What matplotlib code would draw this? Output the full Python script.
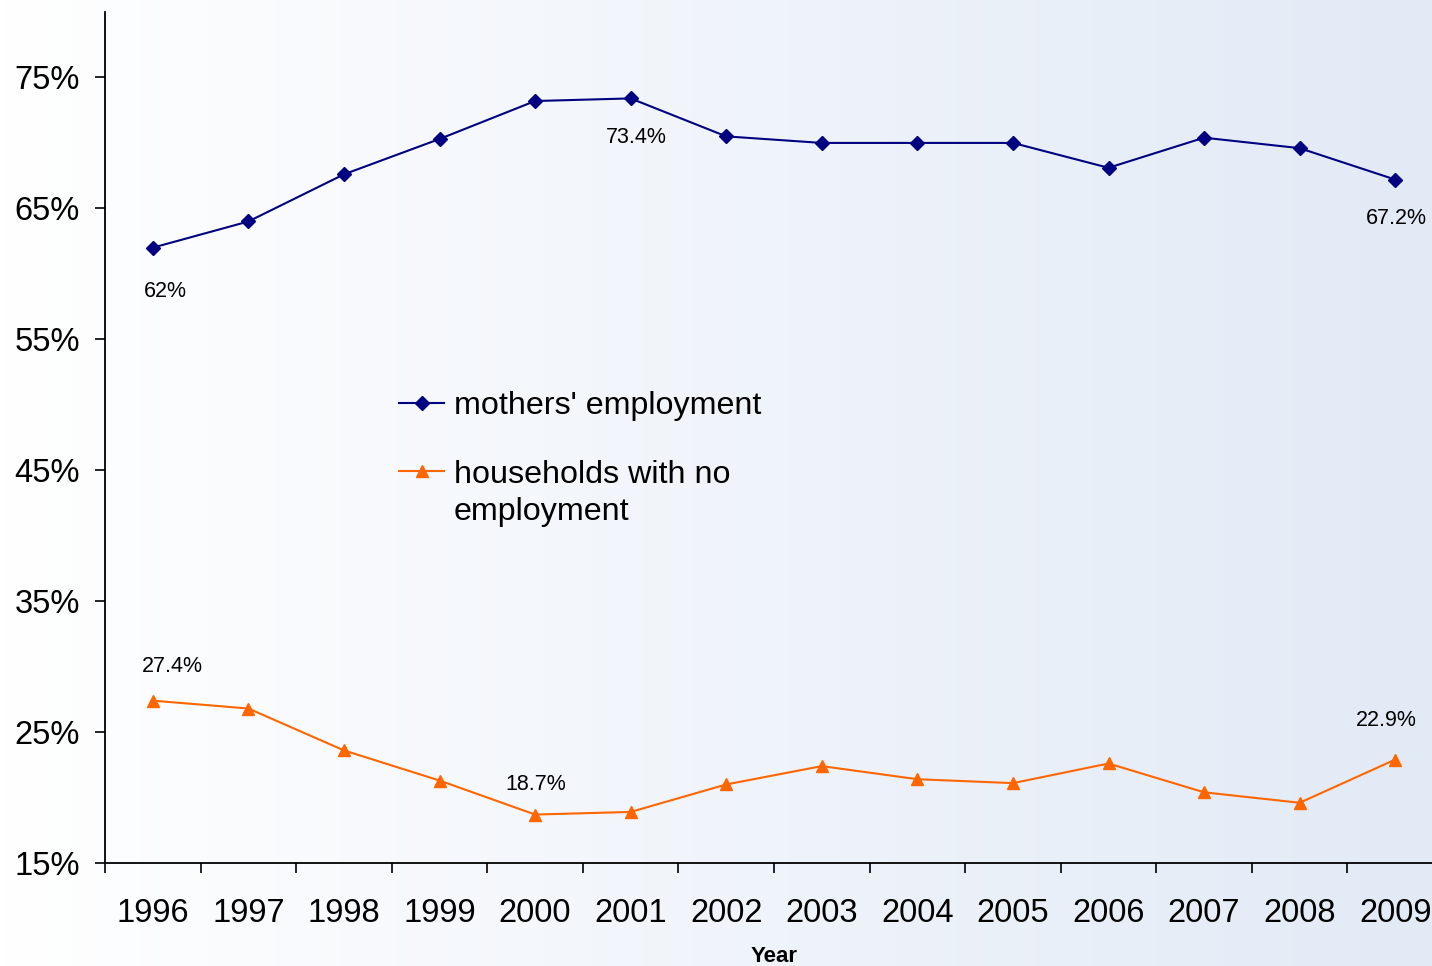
import numpy as np
import matplotlib
matplotlib.use('Agg')
import matplotlib.pyplot as plt
from matplotlib.colors import LinearSegmentedColormap

plt.rcParams['font.family'] = ['Liberation Sans', 'DejaVu Sans']

# data (percent)
years = ['1996', '1997', '1998', '1999', '2000', '2001', '2002',
         '2003', '2004', '2005', '2006', '2007', '2008', '2009']
mothers = [62.0, 64.0, 67.6, 70.3, 73.2, 73.4, 70.5,
           70.0, 70.0, 70.0, 68.1, 70.4, 69.6, 67.2]
no_work = [27.4, 26.8, 23.6, 21.3, 18.7, 18.9, 21.0,
           22.4, 21.4, 21.1, 22.6, 20.4, 19.6, 22.9]
yticks = [15, 25, 35, 45, 55, 65, 75]

# labelled points: (index, text, x offset px, y offset px)
mothers_labels = [(0, '62%', 13, -44), (5, '73.4%', 6, -39), (13, '67.2%', 1, -39)]
no_work_labels = [(0, '27.4%', 20, 34), (4, '18.7%', 1, 30), (13, '22.9%', -9, 39)]

fig = plt.figure(figsize=(14.32, 9.66), dpi=100)

# background gradient over whole figure
bg = fig.add_axes([0, 0, 1, 1], zorder=-10)
cmap = LinearSegmentedColormap.from_list('bg', ['#FFFFFF', '#E2EAF6'])
bg.imshow(np.linspace(0, 1, 256).reshape(1, -1), aspect='auto', cmap=cmap,
          extent=[0, 1, 0, 1])
bg.axis('off')

ax = fig.add_axes([105 / 1432, 1 - 863 / 966, 1338 / 1432, 851 / 966])
ax.patch.set_alpha(0)

x = np.arange(len(years))
ax.plot(x, mothers, color='#000080', lw=1.5, marker='D', ms=7,
        label="mothers' employment", clip_on=False)
ax.plot(x, no_work, color='#FF6600', lw=1.5, marker='^', ms=9,
        label='households with no', clip_on=False)

for i, txt, dx, dy in mothers_labels:
    ax.annotate(txt, (x[i], mothers[i]), xytext=(dx * 0.72, dy * 0.72),
                textcoords='offset points', ha='center', va='center', fontsize=15.5)
for i, txt, dx, dy in no_work_labels:
    ax.annotate(txt, (x[i], no_work[i]), xytext=(dx * 0.72, dy * 0.72),
                textcoords='offset points', ha='center', va='center', fontsize=15.5)

ax.set_xlim(-0.5, len(years) - 0.5)
ax.set_ylim(15, 80)
ax.set_yticks(yticks)
ax.set_yticklabels([f'{v}%' for v in yticks], fontsize=23.5)
ax.set_xticks(x)
ax.set_xticklabels(years, fontsize=23.5)
ax.set_xticks(np.arange(-0.5, len(years), 1), minor=True)
ax.tick_params(axis='x', which='major', length=0, pad=25)
ax.tick_params(axis='x', which='minor', length=7, width=1.2, direction='out')
ax.tick_params(axis='y', length=7, width=1.2, pad=11)

for s in ['top', 'right']:
    ax.spines[s].set_visible(False)
for s in ['left', 'bottom']:
    ax.spines[s].set_linewidth(1.3)

fig.text(774 / 1432, 1 - 956 / 966, 'Year', ha='center', va='center',
         fontsize=16, fontweight='bold')

leg = ax.legend(loc='upper left', bbox_to_anchor=(399 / 1432, 1 - 391 / 966),
                bbox_transform=fig.transFigure, frameon=False, fontsize=23.2,
                handlelength=1.4, handletextpad=0.3, labelspacing=1.2,
                borderpad=0, borderaxespad=0)

# second line of the wrapped legend label, kept next to the marker line like the original
fig.canvas.draw()
bb = leg.get_texts()[1].get_window_extent()
fig.text(bb.x0 / fig.bbox.width, (bb.y0 - 37) / fig.bbox.height, 'employment',
         fontsize=23.2, ha='left', va='bottom')

fig.savefig('out.png', dpi=100)
